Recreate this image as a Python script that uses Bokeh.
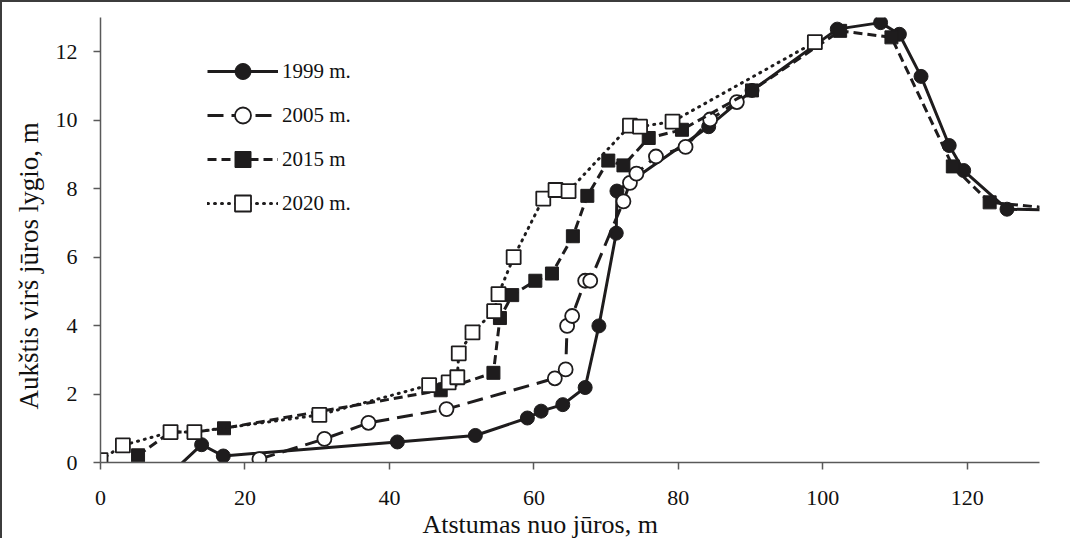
import math
from bokeh.plotting import figure
from bokeh.models import Range1d, Legend, LegendItem, FixedTicker, Title
from bokeh.embed import file_html
from bokeh.resources import INLINE

# ---- data ----
x_1999 = [8.0, 14.0, 17.0, 41.1, 51.9, 59.1, 61.0, 64.0, 67.1, 69.0, 71.4, 71.5,
          84.2, 90.2, 102.0, 108.0, 110.6, 113.6, 117.5, 119.5, 125.5, 135.0]
y_1999 = [-0.66, 0.52, 0.19, 0.60, 0.79, 1.30, 1.50, 1.69, 2.19, 3.99, 6.70, 7.93,
          9.81, 10.87, 12.66, 12.85, 12.51, 11.28, 9.26, 8.53, 7.40, 7.36]

x_2005 = [22.0, 31.0, 37.1, 47.9, 62.9, 64.4, 64.6, 65.3, 67.1, 67.8, 72.4, 73.3,
          74.2, 76.9, 81.0, 84.4, 88.1]
y_2005 = [0.10, 0.69, 1.16, 1.56, 2.46, 2.72, 3.99, 4.28, 5.31, 5.31, 7.63, 8.17,
          8.44, 8.94, 9.22, 10.02, 10.53]

x_2015 = [5.2, 9.7, 13.0, 17.1, 47.1, 54.4, 55.3, 57.0, 60.2, 62.5, 65.4, 67.4,
          70.3, 72.4, 75.9, 80.5, 90.2, 102.4, 109.5, 118.0, 123.1, 135.0]
y_2015 = [0.21, 0.89, 0.89, 1.00, 2.11, 2.62, 4.22, 4.89, 5.31, 5.52, 6.61, 7.79,
          8.82, 8.68, 9.48, 9.72, 10.87, 12.61, 12.42, 8.65, 7.60, 7.36]

x_2020 = [0.0, 3.1, 9.7, 13.0, 30.3, 45.5, 48.2, 49.4, 49.6, 51.5, 54.5, 55.1,
          57.2, 61.3, 63.0, 64.8, 73.3, 74.7, 79.2, 98.9]
y_2020 = [0.07, 0.50, 0.89, 0.89, 1.39, 2.26, 2.34, 2.49, 3.19, 3.80, 4.42, 4.92,
          6.00, 7.71, 7.96, 7.93, 9.84, 9.81, 9.96, 12.28]

series_labels = ["1999 m.", "2005 m.", "2015 m", "2020 m."]
x_ticks = [0, 20, 40, 60, 80, 100, 120]
y_ticks = [0, 2, 4, 6, 8, 10, 12]
x_title = "Atstumas nuo jūros, m"
y_title = "Aukštis virš jūros lygio, m"

FONT = "Liberation Serif"
INK = "#1e1c1d"
AX = "#595959"
TXT = "#111111"

p = figure(width=1070, height=538, output_backend="svg", toolbar_location=None,
           x_range=Range1d(0, 130), y_range=Range1d(0, 13),
           min_border_left=97, min_border_right=33, min_border_top=15,
           min_border_bottom=78)
p.outline_line_color = None
p.grid.visible = False
p.styles = {"border-left": "2px solid #3c3c3c", "border-top": "2px solid #3c3c3c"}

for ax in (p.xaxis[0], p.yaxis[0]):
    ax.axis_line_color = AX
    ax.axis_line_width = 1.5
    ax.major_tick_line_color = AX
    ax.major_tick_line_width = 1.5
    ax.major_tick_out = 7
    ax.major_tick_in = 0
    ax.minor_tick_line_color = None
    ax.major_label_text_font = FONT
    ax.major_label_text_font_size = "22px"
    ax.major_label_text_color = TXT
p.xaxis.ticker = FixedTicker(ticks=x_ticks)
p.yaxis.ticker = FixedTicker(ticks=y_ticks)
p.xaxis.major_label_standoff = 21
p.yaxis.major_label_standoff = 16

# axis titles as Title objects, so they can be offset like in the reference
p.add_layout(Title(text=x_title, align="left", offset=322, standoff=0,
                   text_font=FONT, text_font_size="26px", text_font_style="normal",
                   text_color=TXT), "below")
p.add_layout(Title(text=y_title, align="left", offset=53, standoff=18,
                   text_font=FONT, text_font_size="27px", text_font_style="normal",
                   text_color=TXT), "left")

r1l = p.line(x_1999, y_1999, line_color=INK, line_width=3)
r1s = p.scatter(x_1999, y_1999, marker="circle", size=14, fill_color=INK, line_color=INK)

r2l = p.line(x_2005, y_2005, line_color=INK, line_width=3, line_dash="16 8")
r2s = p.scatter(x_2005, y_2005, marker="circle", size=14, fill_color="white",
                line_color=INK, line_width=1.8)

r3l = p.line(x_2015, y_2015, line_color=INK, line_width=3, line_dash="9 5")
r3s = p.scatter(x_2015, y_2015, marker="square", size=13, fill_color=INK, line_color=INK)

r4l = p.line(x_2020, y_2020, line_color=INK, line_width=3, line_dash="1 6",
             line_cap="round")
r4s = p.scatter(x_2020, y_2020, marker="square", size=14, fill_color="white",
                line_color=INK, line_width=1.8)

legend = Legend(items=[
    LegendItem(label=series_labels[0], renderers=[r1l, r1s]),
    LegendItem(label=series_labels[1], renderers=[r2l, r2s]),
    LegendItem(label=series_labels[2], renderers=[r3l, r3s]),
    LegendItem(label=series_labels[3], renderers=[r4l, r4s]),
], location=(107, 239))
legend.glyph_width = 71
legend.glyph_height = 40
legend.label_height = 40
legend.spacing = 4
legend.padding = 10
legend.label_standoff = 4
legend.label_text_font = FONT
legend.label_text_font_size = "21px"
legend.label_text_color = TXT
legend.border_line_color = None
legend.background_fill_alpha = 0
p.add_layout(legend)

open("out.html", "w").write(file_html(p, INLINE))
